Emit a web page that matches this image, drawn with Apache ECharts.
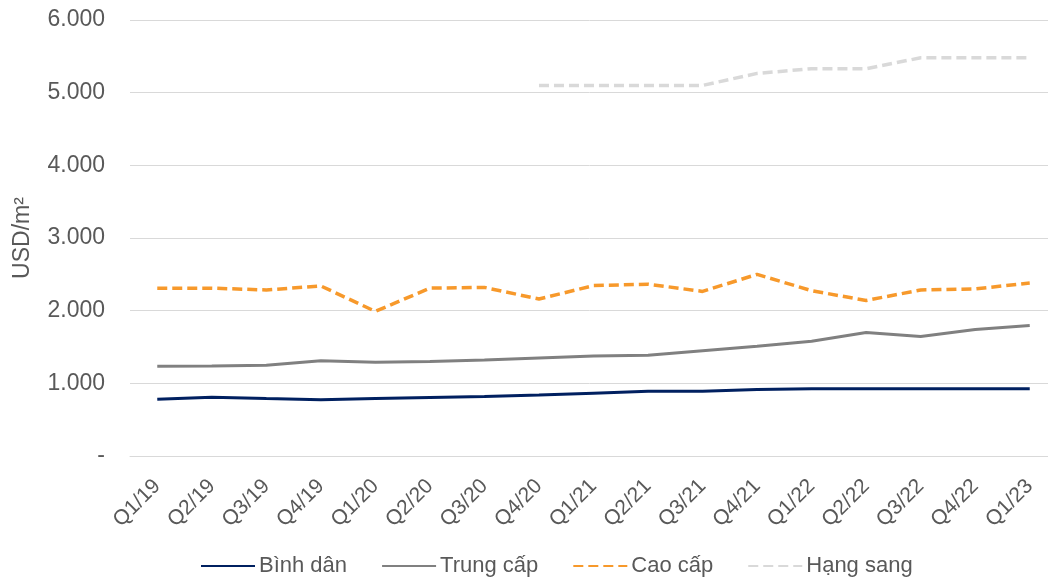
<!DOCTYPE html>
<html><head><meta charset="utf-8">
<script src="https://cdn.jsdelivr.net/npm/echarts@6/dist/echarts.min.js"></script>
<style>html,body{margin:0;padding:0;background:#fff}#c{width:1048px;height:580px}</style>
</head><body><div id="c"></div>
<script>
const categories = ['Q1/19','Q2/19','Q3/19','Q4/19','Q1/20','Q2/20','Q3/20','Q4/20','Q1/21','Q2/21','Q3/21','Q4/21','Q1/22','Q2/22','Q3/22','Q4/22','Q1/23'];
const binhDan = [780, 810, 790, 775, 790, 805, 820, 840, 865, 890, 890, 915, 925, 925, 925, 925, 925];
const trungCap = [1235, 1240, 1250, 1310, 1290, 1300, 1320, 1350, 1375, 1385, 1450, 1510, 1580, 1700, 1645, 1740, 1795];
const caoCap = [2310, 2310, 2285, 2340, 1990, 2310, 2320, 2160, 2345, 2365, 2265, 2500, 2275, 2140, 2285, 2300, 2380];
const hangSang = [null, null, null, null, null, null, null, 5100, 5100, 5100, 5100, 5265, 5330, 5330, 5480, 5480, 5480];
const yTickLabels = ['-', '1.000', '2.000', '3.000', '4.000', '5.000', '6.000'];
const seriesNames = ['Bình dân', 'Trung cấp', 'Cao cấp', 'Hạng sang'];

const FONT = '"Liberation Sans", Arial, sans-serif';
const TXT = '#595959';
const chart = echarts.init(document.getElementById('c'));
chart.setOption({
  animation: false,
  textStyle: { fontFamily: FONT },
  grid: { left: 130, right: -9, top: 20, bottom: 124, containLabel: false, outerBoundsMode: 'none' },
  legend: {
    top: 555, left: 200, padding: 0,
    itemWidth: 54, itemHeight: 4, itemGap: 34,
    itemStyle: { opacity: 0 },
    textStyle: { fontFamily: FONT, fontSize: 22, color: TXT, padding: [0, 0, 0, -1] },
    data: seriesNames
  },
  xAxis: {
    type: 'category', data: categories, boundaryGap: true,
    axisLine: { show: true, lineStyle: { color: '#d9d9d9', width: 1 } },
    axisTick: { show: false },
    axisLabel: { rotate: 45, color: TXT, fontSize: 21, fontFamily: FONT, margin: 27, interval: 0 }
  },
  yAxis: {
    type: 'value', min: 0, max: 6000, interval: 1000,
    name: 'USD/m²', nameLocation: 'middle', nameRotate: 90, nameGap: 96,
    nameTextStyle: { color: TXT, fontSize: 23, fontFamily: FONT },
    axisLine: { show: false }, axisTick: { show: false },
    splitLine: { lineStyle: { color: '#d9d9d9', width: 1 } },
    axisLabel: { color: TXT, fontSize: 23, fontFamily: FONT, margin: 25,
      formatter: v => yTickLabels[Math.round(v / 1000)] }
  },
  series: [
    { name: seriesNames[0], type: 'line', data: binhDan, symbol: 'none',
      lineStyle: { color: '#002060', width: 3 }, itemStyle: { color: '#002060' } },
    { name: seriesNames[1], type: 'line', data: trungCap, symbol: 'none',
      lineStyle: { color: '#808080', width: 3 }, itemStyle: { color: '#808080' } },
    { name: seriesNames[2], type: 'line', data: caoCap, symbol: 'none',
      lineStyle: { color: '#f7992b', width: 3.5, type: [10, 5] }, itemStyle: { color: '#f7992b' } },
    { name: seriesNames[3], type: 'line', data: hangSang, symbol: 'none',
      lineStyle: { color: '#d9d9d9', width: 3.5, type: [10, 5] }, itemStyle: { color: '#d9d9d9' } }
  ]
});
</script></body></html>
